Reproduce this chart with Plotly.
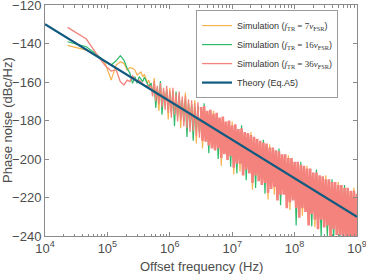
import plotly.graph_objects as go

# ---------------- data ----------------
# low-frequency samples (linear FFT grid, 23 kHz spacing)
freq_low = [23000, 46000, 69000, 92000, 115000, 138000, 161000, 184000, 207000, 230000,
            253000, 276000, 299000, 322000, 345000, 368000, 391000, 414000, 437000, 460000]

# dense region samples (Hz)
freq_high = [
    5.012e5, 5.309e5, 5.623e5, 5.957e5, 6.310e5, 6.683e5, 7.079e5, 7.499e5, 7.943e5, 8.414e5,
    8.913e5, 9.441e5,
    1.000e6, 1.059e6, 1.122e6, 1.189e6, 1.259e6, 1.334e6, 1.413e6, 1.496e6, 1.585e6, 1.679e6,
    1.778e6, 1.884e6, 1.995e6, 2.113e6, 2.239e6, 2.371e6, 2.512e6, 2.661e6, 2.818e6, 2.985e6,
    3.162e6, 3.350e6, 3.548e6, 3.758e6, 3.981e6, 4.217e6, 4.467e6, 4.732e6, 5.012e6, 5.309e6,
    5.623e6, 5.957e6, 6.310e6, 6.683e6, 7.079e6, 7.499e6, 7.943e6, 8.414e6, 8.913e6, 9.441e6,
    1.000e7, 1.059e7, 1.122e7, 1.189e7, 1.259e7, 1.334e7, 1.413e7, 1.496e7, 1.585e7, 1.679e7,
    1.778e7, 1.884e7, 1.995e7, 2.113e7, 2.239e7, 2.371e7, 2.512e7, 2.661e7, 2.818e7, 2.985e7,
    3.162e7, 3.350e7, 3.548e7, 3.758e7, 3.981e7, 4.217e7, 4.467e7, 4.732e7, 5.012e7, 5.309e7,
    5.623e7, 5.957e7, 6.310e7, 6.683e7, 7.079e7, 7.499e7, 7.943e7, 8.414e7, 8.913e7, 9.441e7,
    1.000e8, 1.059e8, 1.122e8, 1.189e8, 1.259e8, 1.334e8, 1.413e8, 1.496e8, 1.585e8, 1.679e8,
    1.778e8, 1.884e8, 1.995e8, 2.113e8, 2.239e8, 2.371e8, 2.512e8, 2.661e8, 2.818e8, 2.985e8,
    3.162e8, 3.350e8, 3.548e8, 3.758e8, 3.981e8, 4.217e8, 4.467e8, 4.732e8, 5.012e8, 5.309e8,
    5.623e8, 5.957e8, 6.310e8, 6.683e8, 7.079e8, 7.499e8, 7.943e8, 8.414e8, 8.913e8, 9.441e8,
    1.000e9,
]

sim7_low = [-141.0, -143.4, -146.5, -150.3, -159.0, -151.2, -149.5, -150.3, -153.8, -152.5,
            -152.9, -153.8, -156.4, -155.5, -154.8, -157.2, -156.0, -158.0, -160.7, -159.0]
sim16_low = [-139.1, -141.7, -146.0, -149.4, -151.2, -149.0, -146.3, -148.6, -152.9, -155.5,
             -160.7, -157.2, -160.7, -157.2, -158.5, -159.8, -157.5, -159.0, -161.0, -162.4]
sim36_low = [-131.6, -137.7, -146.0, -151.5, -154.3, -153.6, -159.8, -161.6, -159.0, -159.8,
             -156.9, -158.5, -159.8, -159.0, -160.0, -160.7, -161.5, -162.4, -161.6, -163.0]

sim7_high = [
    -163.5, -165.5, -158.0, -168.0, -163.5, -175.0, -162.5, -170.5, -165.0, -172.0,
    -164.0, -179.5, -163.0, -175.5, -165.0, -174.5, -168.0, -177.5, -167.0, -184.0,
    -169.5, -180.5, -165.5, -181.0, -171.0, -183.5, -171.5, -183.0, -169.5, -192.0,
    -172.5, -186.5, -175.0, -194.5, -174.5, -188.5, -177.0, -190.5, -176.5, -191.5,
    -175.0, -193.0, -178.0, -192.0, -180.5, -203.5, -180.0, -195.0, -182.5, -198.0,
    -182.0, -196.0, -180.5, -208.0, -184.0, -200.0, -186.5, -206.5, -186.0, -205.5,
    -188.0, -203.0, -188.5, -205.0, -186.0, -216.0, -190.5, -206.0, -191.5, -209.0,
    -192.5, -211.0, -193.5, -210.0, -194.0, -221.0, -192.5, -213.0, -196.0, -218.5,
    -197.5, -219.0, -198.0, -216.0, -199.5, -216.0, -199.5, -223.0, -198.0, -226.5,
    -201.5, -219.0, -203.5, -223.0, -203.5, -228.0, -205.0, -229.5, -205.5, -225.0,
    -203.5, -232.0, -207.0, -226.0, -209.0, -235.5, -209.0, -234.0, -210.5, -229.0,
    -211.0, -233.0, -208.5, -238.5, -212.5, -238.0, -214.0, -234.0, -214.0, -237.0,
    -212.0, -237.0, -215.5, -241.0, -217.0, -238.0, -217.0, -242.0, -218.5, -240.0,
    -215.0, -243.0, -220.0,
]
sim16_high = [
    -160.5, -166.0, -161.0, -173.5, -163.5, -169.5, -159.5, -177.0, -165.0, -172.0,
    -164.0, -174.0, -166.0, -176.0, -165.0, -183.0, -165.0, -178.0, -167.0, -178.0,
    -169.5, -180.5, -169.0, -188.5, -171.0, -183.5, -171.5, -190.5, -173.0, -185.0,
    -172.5, -186.5, -175.0, -188.0, -171.0, -188.5, -177.0, -197.0, -176.5, -191.5,
    -178.5, -192.5, -178.0, -200.0, -180.5, -196.5, -180.0, -195.0, -182.5, -197.5,
    -182.0, -204.0, -184.5, -201.5, -184.0, -207.5, -186.5, -200.0, -182.5, -205.5,
    -188.0, -211.0, -188.5, -204.5, -189.5, -209.5, -190.5, -215.0, -191.5, -208.5,
    -192.5, -210.5, -190.0, -218.0, -194.0, -214.5, -196.0, -213.0, -196.0, -212.0,
    -197.5, -218.5, -194.5, -224.0, -199.5, -215.5, -199.5, -222.5, -201.5, -219.5,
    -201.5, -219.0, -203.5, -234.5, -203.5, -227.5, -201.5, -223.0, -205.5, -225.0,
    -207.0, -231.5, -207.0, -235.0, -209.0, -229.0, -205.5, -233.5, -210.5, -240.5,
    -211.0, -233.0, -212.5, -240.0, -212.5, -237.5, -210.5, -243.0, -214.0, -237.0,
    -215.5, -242.0, -215.5, -241.0, -213.5, -243.0, -217.0, -242.0, -218.5, -244.0,
    -218.5, -243.0, -220.0,
]
sim36_high = [
    -162.0, -167.5, -159.5, -170.0, -162.0, -171.5, -160.5, -173.0, -163.0, -174.5,
    -162.0, -176.0, -164.5, -178.5, -163.0, -177.0, -166.0, -180.5, -165.0, -180.0,
    -167.5, -183.0, -167.0, -184.0, -169.0, -186.0, -169.5, -185.5, -171.0, -188.0,
    -170.5, -189.0, -173.0, -190.5, -172.5, -191.0, -175.0, -193.0, -174.5, -194.5,
    -176.5, -195.5, -176.0, -194.5, -178.5, -199.5, -178.0, -197.5, -180.5, -200.5,
    -180.0, -198.5, -182.5, -204.5, -182.0, -202.5, -184.5, -202.5, -184.0, -208.5,
    -186.0, -205.5, -186.5, -207.5, -187.5, -212.5, -188.5, -208.5, -189.5, -211.5,
    -190.5, -213.5, -191.5, -212.5, -192.0, -217.5, -194.0, -215.5, -194.0, -214.5,
    -195.5, -221.5, -196.0, -218.5, -197.5, -218.5, -197.5, -225.5, -199.5, -222.5,
    -199.5, -221.5, -201.5, -225.5, -201.5, -230.5, -203.0, -225.5, -203.5, -227.5,
    -205.0, -234.5, -205.0, -228.5, -207.0, -231.5, -207.0, -236.5, -208.5, -231.5,
    -209.0, -235.5, -210.5, -234.5, -210.5, -240.5, -212.0, -236.5, -212.0, -239.5,
    -213.5, -239.5, -213.5, -243.5, -215.0, -240.5, -215.0, -244.5, -216.5, -242.5,
    -216.5, -245.5, -218.0,
]

theory_freq = [1e4, 1e9]
theory_pn = [-130.0, -230.0]

serif = "font-family:'Liberation Serif'"
names = [
    f'Simulation (<span style="{serif}"><i>f</i><sub>TR</sub> = 7<i>ν</i><sub>FSR</sub></span>)',
    f'Simulation (<span style="{serif}"><i>f</i><sub>TR</sub> = 16<i>ν</i><sub>FSR</sub></span>)',
    f'Simulation (<span style="{serif}"><i>f</i><sub>TR</sub> = 36<i>ν</i><sub>FSR</sub></span>)',
    'Theory (Eq.A5)',
]
colors = ['#F7B24F', '#2DBB6A', '#F3837C', '#0F5A80']

x_tickvals = [1e4, 1e5, 1e6, 1e7, 1e8, 1e9]
x_ticktext = ['10<sup>4</sup>', '10<sup>5</sup>', '10<sup>6</sup>', '10<sup>7</sup>',
              '10<sup>8</sup>', '10<sup>9</sup>']
y_tickvals = [-240, -220, -200, -180, -160, -140, -120]

# ---------------- figure ----------------
fig = go.Figure()
freq_all = freq_low + freq_high
series = [(sim7_low + sim7_high, names[0], colors[0]),
          (sim16_low + sim16_high, names[1], colors[1]),
          (sim36_low + sim36_high, names[2], colors[2])]
split = len(freq_low) + 32   # where the spectrum becomes a dense band
for k, (vals, nm, c) in enumerate(series):
    if k < 2:
        fig.add_trace(go.Scatter(x=freq_all, y=vals, mode='lines', name=nm,
                                 legendgroup=str(k), line=dict(color=c, width=1.2)))
    else:
        fig.add_trace(go.Scatter(x=freq_all[:split + 1], y=vals[:split + 1], mode='lines',
                                 name=nm, legendgroup=str(k), line=dict(color=c, width=1.3)))
        fig.add_trace(go.Scatter(x=freq_all[split:], y=vals[split:], mode='lines',
                                 name=nm, legendgroup=str(k), showlegend=False,
                                 line=dict(color=c, width=2.6)))
fig.add_trace(go.Scatter(x=theory_freq, y=theory_pn, mode='lines', name=names[3],
                         line=dict(color=colors[3], width=2.2)))

minor_vals = [m * 10 ** e for e in range(4, 9) for m in range(2, 10)]
axis_common = dict(showline=True, linecolor='#8a8a8a', linewidth=1, mirror='ticks',
                   ticks='inside', tickcolor='#8a8a8a', ticklen=4, showgrid=False,
                   zeroline=False, automargin=False, ticklabeloverflow='allow',
                   tickfont=dict(size=13, color='#4d4d4d'))
fig.update_xaxes(type='log', range=[4, 9], tickvals=x_tickvals, ticktext=x_ticktext,
                 minor=dict(tickvals=minor_vals, ticks='inside', ticklen=2.5, tickcolor='#8a8a8a'),
                 **axis_common)
fig.update_yaxes(range=[-240, -120], tickvals=y_tickvals, **axis_common)

fig.add_annotation(text='Offset frequency (Hz)', xref='paper', yref='paper', x=0.5, y=0,
                   yshift=-30.5, xanchor='center', yanchor='middle', showarrow=False,
                   font=dict(size=13, color='#4d4d4d'))
fig.add_annotation(text='Phase noise (dBc/Hz)', xref='paper', yref='paper', x=0, y=0.5,
                   xshift=-37.5, xanchor='center', yanchor='middle', textangle=-90,
                   showarrow=False, font=dict(size=13, color='#4d4d4d'))

fig.update_layout(
    width=366, height=275,
    margin=dict(l=45, r=9, t=5, b=39),
    paper_bgcolor='white', plot_bgcolor='white',
    font=dict(family='Liberation Sans, Arial, sans-serif', color='#4d4d4d'),
    legend=dict(x=0.484, y=0.978, xanchor='left', yanchor='top',
                bgcolor='white', bordercolor='#9a9a9a', borderwidth=1, itemwidth=30,
                font=dict(size=9, color='#333333'), tracegroupgap=0),
    showlegend=True,
)
fig.write_html('out.html', config={'displayModeBar': False},
               post_script="document.body.style.margin='0';document.body.style.padding='0';")
